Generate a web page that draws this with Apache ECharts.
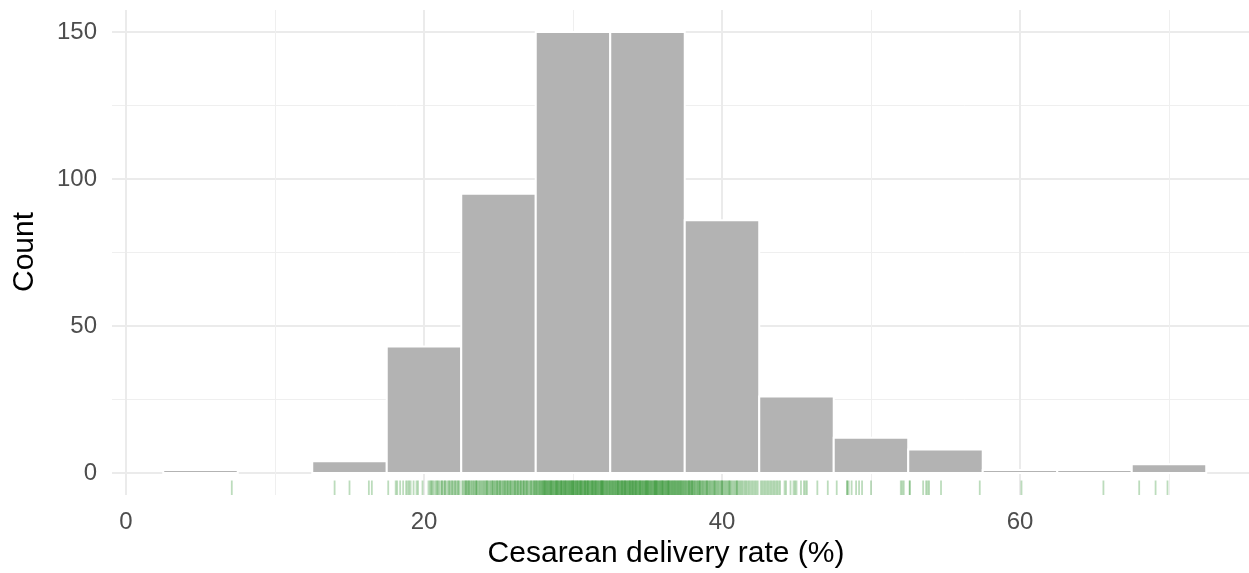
<!DOCTYPE html>
<html>
<head>
<meta charset="utf-8">
<script src="https://cdn.jsdelivr.net/npm/echarts@6/dist/echarts.min.js"></script>
<style>
  html, body { margin: 0; padding: 0; background: #ffffff; }
  #chart { width: 1249px; height: 573px; }
</style>
</head>
<body>
<div id="chart"></div>
<script>
// Histogram bins (width 5) and their counts
const binStarts = [2.5, 7.5, 12.5, 17.5, 22.5, 27.5, 32.5, 37.5, 42.5, 47.5, 52.5, 57.5, 62.5, 67.5];
const binWidth = 5;
const binCounts = [1, 0, 4, 43, 95, 150, 150, 86, 26, 12, 8, 1, 1, 3];

// Individual cesarean delivery rates (%), shown as a rug under the bars
const rates = [
  7.1,
  14.0, 15.0, 16.3, 16.5,
  17.6, 18.1, 18.2, 18.4, 18.6, 18.8, 19.0, 19.1, 19.3, 19.5, 19.6,
  20.3, 20.4, 20.5, 20.6, 20.7, 20.8, 20.9, 21.0, 21.1, 21.2, 21.3, 21.4, 21.5, 21.6, 21.7, 21.8, 21.9,
  22.0, 22.1, 22.2, 22.3, 22.4, 20.5, 20.9, 21.2, 21.4, 21.7, 21.9, 22.1, 22.3, 19.9, 18.9,
  22.56, 22.63, 22.71, 22.78, 22.85, 22.9, 22.97, 23.04, 23.1, 23.18,
  23.22, 23.3, 23.35, 23.41, 23.49, 23.55, 23.6, 23.68, 23.74, 23.8,
  23.87, 23.93, 24.0, 24.05, 24.12, 24.19, 24.25, 24.3, 24.38, 24.44,
  24.5, 24.57, 24.63, 24.7, 24.76, 24.81, 24.88, 24.95, 25.0, 25.07,
  25.13, 25.2, 25.26, 25.31, 25.39, 25.45, 25.5, 25.58, 25.64, 25.7,
  25.77, 25.83, 25.9, 25.96, 26.02, 26.08, 26.15, 26.2, 26.27, 26.33,
  26.4, 26.46, 26.52, 26.6, 26.65, 26.71, 26.78, 26.84, 26.9, 26.97,
  27.03, 27.1, 27.16, 27.22, 27.3, 27.36, 27.42, 27.48, 23.0, 23.5,
  24.2, 24.6, 25.1, 25.4, 25.8, 26.1, 26.5, 26.9, 27.2, 22.8,
  24.9, 25.6, 26.3, 26.7, 27.4,
  27.52, 27.55, 27.6, 27.64, 27.7, 27.73, 27.78, 27.82, 27.86, 27.9,
  27.94, 27.98, 28.0, 28.05, 28.08, 28.12, 28.16, 28.2, 28.23, 28.27,
  28.3, 28.34, 28.38, 28.41, 28.45, 28.5, 28.53, 28.57, 28.6, 28.64,
  28.68, 28.71, 28.75, 28.8, 28.83, 28.86, 28.9, 28.94, 28.97, 29.0,
  29.04, 29.08, 29.11, 29.15, 29.2, 29.23, 29.26, 29.3, 29.34, 29.37,
  29.4, 29.44, 29.48, 29.51, 29.55, 29.6, 29.63, 29.67, 29.7, 29.74,
  29.77, 29.8, 29.84, 29.88, 29.92, 29.95, 30.0, 30.03, 30.06, 30.1,
  30.14, 30.17, 30.2, 30.24, 30.28, 30.31, 30.35, 30.4, 30.43, 30.47,
  30.5, 30.54, 30.57, 30.6, 30.64, 30.68, 30.71, 30.75, 30.8, 30.83,
  30.86, 30.9, 30.93, 30.97, 31.0, 31.04, 31.08, 31.12, 31.15, 31.2,
  31.23, 31.27, 31.3, 31.34, 31.38, 31.41, 31.45, 31.5, 31.53, 31.57,
  31.6, 31.64, 31.68, 31.71, 31.75, 31.8, 31.83, 31.87, 31.9, 31.94,
  31.97, 32.0, 32.04, 32.08, 32.12, 32.15, 32.2, 32.23, 32.27, 32.3,
  32.34, 32.38, 32.42, 32.46, 32.48, 28.1, 28.9, 29.5, 30.0, 30.5,
  31.0, 31.5, 32.0, 29.2, 30.3, 30.8, 31.3, 28.5, 29.9, 31.9,
  32.52, 32.56, 32.6, 32.63, 32.67, 32.7, 32.74, 32.78, 32.81, 32.85,
  32.88, 32.92, 32.96, 33.0, 33.03, 33.07, 33.1, 33.14, 33.18, 33.21,
  33.25, 33.28, 33.32, 33.36, 33.4, 33.43, 33.47, 33.5, 33.54, 33.58,
  33.61, 33.65, 33.68, 33.72, 33.76, 33.8, 33.83, 33.87, 33.9, 33.94,
  33.98, 34.01, 34.05, 34.08, 34.12, 34.16, 34.2, 34.23, 34.27, 34.3,
  34.34, 34.38, 34.41, 34.45, 34.48, 34.52, 34.56, 34.6, 34.63, 34.67,
  34.7, 34.74, 34.78, 34.81, 34.85, 34.88, 34.92, 34.96, 35.0, 35.03,
  35.07, 35.1, 35.14, 35.18, 35.21, 35.25, 35.28, 35.32, 35.36, 35.4,
  35.43, 35.47, 35.5, 35.54, 35.58, 35.61, 35.65, 35.68, 35.72, 35.76,
  35.8, 35.83, 35.87, 35.9, 35.94, 35.98, 36.01, 36.05, 36.08, 36.12,
  36.16, 36.2, 36.23, 36.27, 36.3, 36.34, 36.38, 36.41, 36.45, 36.48,
  36.52, 36.56, 36.6, 36.63, 36.67, 36.7, 36.74, 36.78, 36.81, 36.85,
  36.88, 36.92, 36.96, 37.0, 37.03, 37.07, 37.1, 37.14, 37.18, 37.21,
  37.25, 37.28, 37.32, 37.36, 37.4, 37.44, 37.48, 33.0, 33.5, 34.0,
  34.5, 35.0, 35.5, 36.0, 33.3, 34.2, 34.9, 35.6, 36.4, 33.8,
  37.52, 37.57, 37.6, 37.65, 37.7, 37.74, 37.78, 37.83, 37.88, 37.92,
  37.96, 38.0, 38.05, 38.1, 38.14, 38.18, 38.23, 38.28, 38.33, 38.38,
  38.42, 38.47, 38.52, 38.57, 38.62, 38.67, 38.72, 38.77, 38.82, 38.88,
  38.93, 38.98, 39.04, 39.1, 39.15, 39.2, 39.26, 39.32, 39.38, 39.44,
  39.5, 39.56, 39.62, 39.68, 39.74, 39.8, 39.87, 39.93, 40.0, 40.06,
  40.13, 40.2, 40.27, 40.34, 40.41, 40.48, 40.55, 40.62, 40.7, 40.78,
  40.86, 40.94, 41.02, 41.1, 41.18, 41.26, 41.35, 41.44, 41.53, 41.62,
  41.71, 41.8, 41.9, 42.0, 42.1, 42.2, 42.3, 42.4, 38.0, 38.5,
  39.0, 39.5, 40.0, 40.5, 41.0, 37.8,
  42.6, 42.7, 42.8, 42.9, 43.0, 43.1, 43.2, 43.3, 43.4, 43.5, 43.6, 43.7, 43.8, 43.9,
  44.2, 44.3, 44.6, 44.8, 44.9, 45.0, 45.3, 45.5, 45.6, 45.7, 46.4, 47.1,
  47.7, 48.4, 48.4, 48.5, 48.7, 49.0, 49.2, 49.4, 50.0, 52.0, 52.1, 52.2,
  52.6, 52.6, 53.5, 53.7, 53.8, 53.9, 54.7, 57.3,
  60.1,
  65.6,
  68.0, 69.1, 69.9
];

// Axis ticks
const xTicks = [0, 20, 40, 60];
const yTicks = [0, 50, 100, 150];

const FONT = '"Liberation Sans", Arial, Helvetica, sans-serif';
const GRID_MAJOR = '#ebebeb';
const GRID_MINOR = '#efefef';

// Panel geometry: the panel spans x 112..1249, y 10..495.
// The count scale runs 0..157.5 over 10..473; the strip 473..495 below it holds the rug.
const xMax = 75.37;                 // right end of the rate axis (left end is 0 at x=126)
const yMax = 157.5;                 // headroom above the tallest bar
const yPadLow = -7.5;               // count-axis padding below zero (rug strip)
const rugLength = 4.93;             // rug height, in count units

const chart = echarts.init(document.getElementById('chart'), null, { renderer: 'canvas' });

chart.setOption({
  animation: false,
  backgroundColor: '#ffffff',
  grid: [
    // horizontal gridlines + count labels, full panel width
    { left: 112, top: 10, width: 1137, height: 463 },
    // vertical gridlines, rate labels, bars and rug
    { left: 126, top: 10, width: 1123, height: 485 }
  ],
  xAxis: [
    { type: 'value', gridIndex: 0, min: 0, max: 1, show: false, splitLine: { show: false } },
    {
      type: 'value', gridIndex: 1, min: 0, max: xMax, interval: 20,
      axisLine: { show: false }, axisTick: { show: false },
      axisLabel: {
        showMaxLabel: false,
        color: '#4d4d4d', fontSize: 24, fontFamily: FONT, margin: 15,
        formatter: v => (xTicks.indexOf(v) >= 0 ? String(v) : '')
      },
      splitLine: { show: true, showMaxLine: false, lineStyle: { color: GRID_MAJOR, width: 2 } },
      minorTick: { show: false, splitNumber: 2 },
      minorSplitLine: { show: true, lineStyle: { color: GRID_MINOR, width: 1 } }
    }
  ],
  yAxis: [
    {
      type: 'value', gridIndex: 0, min: 0, max: yMax, interval: 50,
      axisLine: { show: false }, axisTick: { show: false },
      axisLabel: {
        showMaxLabel: false, color: '#4d4d4d', fontSize: 24, fontFamily: FONT, margin: 15,
        formatter: v => (yTicks.indexOf(v) >= 0 ? String(v) : '')
      },
      splitLine: { show: true, showMaxLine: false, lineStyle: { color: GRID_MAJOR, width: 2 } },
      minorTick: { show: false, splitNumber: 2 },
      minorSplitLine: { show: true, lineStyle: { color: GRID_MINOR, width: 1 } }
    },
    {
      type: 'value', gridIndex: 1, min: yPadLow, max: yMax, show: false,
      splitLine: { show: false }
    }
  ],
  graphic: [
    {
      type: 'text', x: 25, y: 252, rotation: Math.PI / 2,
      style: { text: 'Count', fill: '#000000', font: '30px ' + FONT,
               textAlign: 'center', textVerticalAlign: 'middle' }
    },
    {
      type: 'text', x: 666, y: 554,
      style: { text: 'Cesarean delivery rate (%)', fill: '#000000', font: '30px ' + FONT,
               textAlign: 'center', textVerticalAlign: 'middle' }
    }
  ],
  series: [
    {
      type: 'custom', name: 'bins', xAxisIndex: 1, yAxisIndex: 1,
      data: binStarts.map((s, i) => [s, s + binWidth, binCounts[i]]),
      encode: { x: [0, 1], y: 2 },
      renderItem: (params, api) => {
        const c = api.value(2);
        if (!c) return null;
        const p0 = api.coord([api.value(0), c]);
        const p1 = api.coord([api.value(1), 0]);
        return {
          type: 'rect',
          shape: { x: p0[0], y: p0[1], width: p1[0] - p0[0], height: p1[1] - p0[1] },
          style: { fill: '#b3b3b3', stroke: '#ffffff', lineWidth: 2 }
        };
      }
    },
    {
      type: 'custom', name: 'rug', xAxisIndex: 1, yAxisIndex: 1,
      data: rates.map(v => [v, yPadLow]),
      encode: { x: 0, y: 1 },
      renderItem: (params, api) => {
        const v = api.value(0);
        const a = api.coord([v, yPadLow]);
        const b = api.coord([v, yPadLow + rugLength]);
        return {
          type: 'line',
          shape: { x1: a[0], y1: a[1], x2: b[0], y2: b[1] },
          style: { stroke: 'rgba(34,139,34,0.3)', lineWidth: 1.8 }
        };
      }
    }
  ]
});
</script>
</body>
</html>
